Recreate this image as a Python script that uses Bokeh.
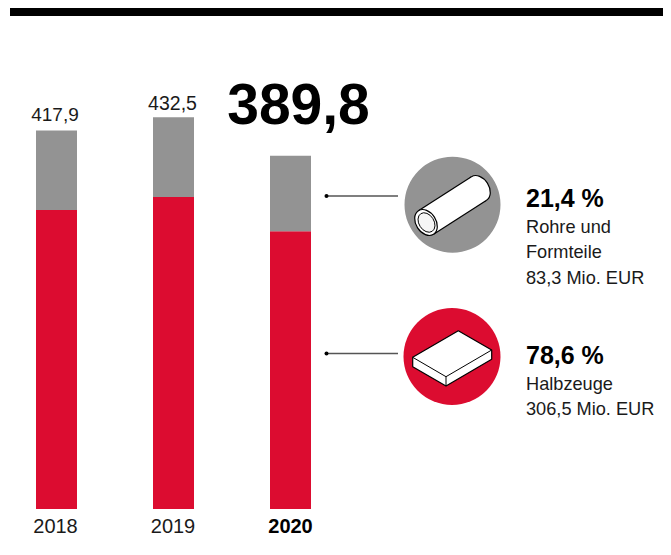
from bokeh.plotting import figure
from bokeh.models import Range1d
from bokeh.core.properties import value
from bokeh.embed import file_html
from bokeh.resources import INLINE
import math

years = ["2018", "2019", "2020"]
totals = ["417,9", "432,5", "389,8"]
halbzeuge = [330.0, 344.5, 306.5]
total_values = [417.9, 432.5, 389.8]

RED = "#DC0C30"
GREY = "#939393"
INK = "#1a1a1a"
FONT = "Liberation Sans"

W, H = 663, 539
S = 0.5
p = figure(width=W, height=H, output_backend="svg", toolbar_location=None,
           x_range=Range1d(S, W + S), y_range=Range1d(-33.1 - S / 0.906, 561.8 - S / 0.906),
           min_border=0, outline_line_color=None, border_fill_color="white")
p.xaxis.visible = False
p.yaxis.visible = False
p.grid.visible = False
p.extra_y_ranges = {"px": Range1d(H + S, S)}

centers = [56.5, 173.5, 290.5]
p.vbar(x=centers, width=41, bottom=0, top=halbzeuge, fill_color=RED, line_color=None)
p.vbar(x=centers, width=41, bottom=halbzeuge, top=total_values, fill_color=GREY, line_color=None)

def txt(x, y, s, size, bold=False, align="left", color=INK):
    p.text(x=[x], y=[y - 0.37 * size], text=[s], y_range_name="px", text_font=value(FONT),
           text_font_size=f"{size}px", text_font_style="bold" if bold else "normal",
           text_align=align, text_baseline="alphabetic", text_color=color)

# top rule
p.quad(left=[10], right=[W + S], top=[8], bottom=[16], y_range_name="px", fill_color="black", line_color=None)

txt(55, 122, totals[0], 19, align="center")
txt(172.5, 110, totals[1], 19.5, align="center")
txt(298.5, 125, totals[2], 57, bold=True, align="center", color="black")
txt(55.5, 533, years[0], 20, align="center")
txt(173, 533, years[1], 20, align="center")
txt(290.5, 533, years[2], 20, bold=True, align="center", color="black")

# connectors
for y in (196, 353.5):
    p.line([326, 398], [y, y], y_range_name="px", line_color="#555555", line_width=1.3)
    p.scatter([326.5], [y], y_range_name="px", size=4, fill_color="black", line_color=None)

# circles
p.ellipse(x=[452.5], y=[204.7], width=96, height=96, width_units="screen", height_units="screen",
          y_range_name="px", fill_color=GREY, line_color=None)
p.ellipse(x=[452], y=[356.5], width=97, height=97, width_units="screen", height_units="screen",
          y_range_name="px", fill_color=RED, line_color=None)

# tube icon
ang = math.radians(122.7)
p.ellipse(x=[479], y=[188.5], width=28, height=20, angle=ang, width_units="screen", height_units="screen",
          y_range_name="px", fill_color="white", line_color="black", line_width=1.2)
p.patch([418.4, 471.4, 486.6, 433.6], [210.7, 176.7, 200.3, 234.3], y_range_name="px", fill_color="white", line_color=None)
p.line([418.4, 471.4], [210.7, 176.7], y_range_name="px", line_color="black", line_width=1.2)
p.line([433.6, 486.6], [234.3, 200.3], y_range_name="px", line_color="black", line_width=1.2)
p.ellipse(x=[426], y=[222.5], width=28, height=20, angle=ang, width_units="screen", height_units="screen",
          y_range_name="px", fill_color="white", line_color="black", line_width=1.2)
p.ellipse(x=[426.5], y=[222.5], width=21, height=15, angle=ang, width_units="screen", height_units="screen",
          y_range_name="px", fill_color="#f5f5f5", line_color="black", line_width=1.0)

# plate icon
p.patch([458.3, 491.7, 491.7, 446, 412.7, 412.7], [330.7, 350, 359.3, 386, 366.7, 357.3],
        y_range_name="px", fill_color="white", line_color="black", line_width=1.2)
p.line([412.7, 446, 491.7], [357.3, 376.7, 350], y_range_name="px", line_color="black", line_width=1.0)
p.line([446, 446], [376.7, 386], y_range_name="px", line_color="black", line_width=1.0)

# right texts
SZ = 18.2
txt(526, 207, "21,4 %", 25, bold=True, color="black")
txt(526, 233.5, "Rohre und", SZ)
txt(526, 258.5, "Formteile", SZ)
txt(526, 284.5, "83,3 Mio. EUR", SZ)
txt(526, 364, "78,6 %", 25, bold=True, color="black")
txt(526, 390.5, "Halbzeuge", SZ)
txt(526, 415.5, "306,5 Mio. EUR", SZ)

open("out.html", "w").write(file_html(p, INLINE))
